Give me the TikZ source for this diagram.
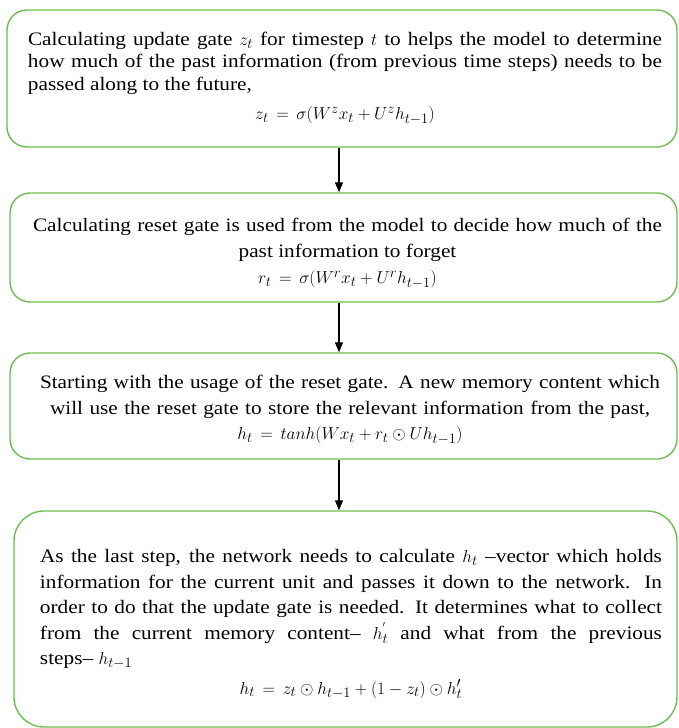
\documentclass[tikz,border=0pt]{standalone}
\usepackage{fontspec}
\setmainfont[FakeStretch=1.12]{Liberation Serif}
\usetikzlibrary{arrows.meta}
\definecolor{boxgreen}{RGB}{108,190,82}
\newcommand\jline[1]{\makebox[\hsize][s]{#1}}
\newcommand\wline[2]{\makebox[#1][s]{#2}}
\newcommand\centline[1]{\makebox[\hsize]{#1}}
\begin{document}
\begin{tikzpicture}[x=1pt,y=-1pt,
  gbox/.style={draw=boxgreen, line width=1.4pt, rounded corners=20pt, fill=white, inner sep=0pt},
  txt/.style={inner sep=0pt, font=\fontsize{19}{#1}\selectfont},
  arr/.style={-{Triangle[length=10pt,width=8pt]}, line width=1.2pt, black}]
\useasboundingbox (0,0) rectangle (678,728);

% boxes
\node[gbox, minimum width=670pt, minimum height=137pt] (b1) at (342,78.5) {};
\node[gbox, minimum width=667pt, minimum height=109pt] (b2) at (343.5,247.5) {};
\node[gbox, minimum width=667pt, minimum height=106pt] (b3) at (343.5,406) {};
\node[gbox, rounded corners=30pt, minimum width=663pt, minimum height=216pt] (b4) at (345.5,619) {};

% texts
\node[txt=22.5pt, text width=634pt, align=flush left] (t1) at (345,78)
  {\jline{Calculating update gate $z_t$ for timestep $t$ to helps the model to determine}\\
   \jline{how much of the past information (from previous time steps) needs to be}\\
   passed along to the future,\\[7pt]
   \centline{$z_t \,=\, \sigma(W^z x_t + U^z h_{t-1})$}};

\node[txt=26pt, text width=660pt, align=flush center] (t2) at (347.5,253.5)
  {\wline{629pt}{Calculating reset gate is used from the model to decide how much of the}\\
   past information to forget\\
   $r_t \,=\, \sigma(W^r x_t + U^r h_{t-1})$};

\node[txt=25.5pt, text width=660pt, align=flush center] (t3) at (350,410)
  {\wline{620pt}{Starting with the usage of the reset gate. A new memory content which}\\
   \wline{600pt}{will use the reset gate to store the relevant information from the past,}\\
   $h_t \,=\, tanh(W x_t + r_t \odot U h_{t-1})$};

\node[txt=25.5pt, text width=622pt, align=flush left] (t4) at (351,624)
  {\jline{As the last step, the network needs to calculate $h_t$ --vector which holds}\\
   \jline{information for the current unit and passes it down to the network. In}\\
   \jline{order to do that the update gate is needed. It determines what to collect}\\
   \jline{from the current memory content-- $h^{'}_t$ and what from the previous}\\
   steps-- $h_{t-1}$\\[4pt]
   \centline{$h_t \,=\, z_t \odot h_{t-1} + (1 - z_t) \odot h'_t$}};

% arrows
\draw[arr] ([xshift=-3pt]b1.south) -- ([xshift=-3pt]b1.south |- b2.north);
\draw[arr] ([xshift=-3pt]b1.south |- b2.south) -- ([xshift=-3pt]b1.south |- b3.north);
\draw[arr] ([xshift=-3pt]b1.south |- b3.south) -- ([xshift=-3pt]b1.south |- b4.north);
\end{tikzpicture}
\end{document}
